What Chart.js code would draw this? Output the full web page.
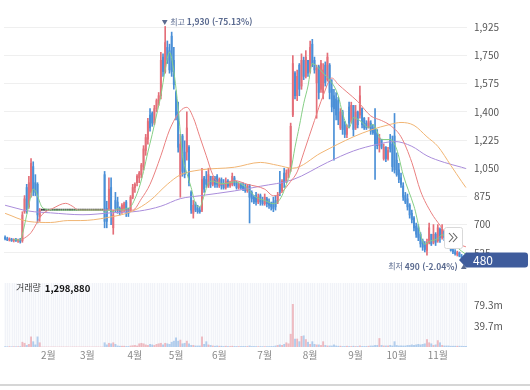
<!DOCTYPE html>
<html lang="ko">
<head>
<meta charset="utf-8">
<script src="https://cdn.jsdelivr.net/npm/chart.js@4.4.1/dist/chart.umd.min.js"></script>
<style>
html,body{margin:0;padding:0;background:#fff;}
#wrap{position:relative;width:530px;height:390px;overflow:hidden;background:#fff;}
#pc{position:absolute;left:0;top:0;}
#vc{position:absolute;left:0;top:270px;}
#foot{position:absolute;left:0;top:384px;width:530px;height:2px;background:#d6d6d6;}
</style>
</head>
<body>
<div id="wrap">
<canvas id="pc" width="530" height="282"></canvas>
<canvas id="vc" width="530" height="120"></canvas>
<div id="foot"></div>
</div>
<script>
// ---------------- DATA ----------------
const open = [620,612,605,610,600,606,598,604,600,780,930,810,900,1060,960,950,750,
790,790,790,790,790,790,790,790,790,790,790,790,790,790,790,790,790,790,790,790,790,790,790,790,790,790,790,790,790,
1010,800,800,930,680,850,840,800,790,800,840,800,790,870,
930,960,990,1010,1060,1160,1230,1380,1390,1330,
1420,1470,1500,1740,1650,1800,1780,1870,1720,1520,
1400,1000,1250,1150,1150,1180,900,770,830,800,
790,790,990,980,940,1000,950,990,1000,940,
980,950,930,970,940,950,990,960,930,950,
940,930,910,940,900,870,880,840,880,850,
830,860,840,830,840,850,840,950,910,1020,
970,1020,1050,1380,1640,1500,1690,1560,1720,1620,
1720,1650,1820,1720,1580,1680,1540,1520,1690,1600,
1690,1540,1500,1480,1470,1300,1400,1320,1260,1430,
1340,1440,1300,1400,1380,1420,1360,1330,1300,1330,
1300,1300,1270,1190,1230,1110,1180,1110,1230,1200,
1250,1100,1040,990,940,880,860,820,770,740,
690,680,640,600,580,540,590,640,590,640,
600,670,620,660,620,590,570,545,530,515,
525,505,500,492];
const high = [630,622,618,615,612,614,610,615,780,880,950,1000,1110,1090,1010,960,800,
790,790,790,790,790,790,790,790,790,790,790,790,790,790,790,790,790,790,790,790,790,790,790,790,790,790,790,790,790,
1030,845,990,990,790,900,870,810,830,840,850,800,880,950,
960,1010,1030,1080,1190,1260,1360,1420,1400,1440,
1480,1520,1770,1760,1930,1840,1820,1895,1800,1530,
1460,1260,1260,1220,1400,1190,910,850,840,820,
810,1050,1000,1030,1050,1000,1000,1000,1010,990,
990,980,990,980,970,1020,1000,970,960,960,
960,950,950,950,910,880,900,890,890,870,
890,870,860,840,870,880,900,1030,980,1050,
1040,1050,1330,1750,1650,1660,1700,1760,1740,1780,
1720,1840,1850,1740,1690,1690,1720,1700,1710,1765,
1700,1600,1540,1520,1490,1420,1410,1340,1320,1460,
1460,1440,1440,1405,1560,1425,1365,1345,1365,1345,
1320,1420,1290,1260,1230,1200,1185,1180,1260,1250,
1390,1145,1080,1020,960,900,890,830,790,750,
710,700,650,610,595,610,710,640,700,650,
700,680,700,660,630,600,575,555,545,535,
530,515,505,495];
const low = [605,600,598,595,592,596,590,585,590,770,770,800,870,880,880,710,720,
790,790,790,790,790,790,790,790,790,790,790,790,790,790,790,790,790,790,790,790,790,790,790,790,790,790,790,790,790,
680,680,790,700,640,780,770,760,770,780,750,750,780,860,
900,940,960,990,1040,1130,1200,1280,1310,1320,
1400,1440,1480,1620,1640,1700,1640,1620,1540,1350,
1150,870,1000,990,1100,940,770,740,780,770,
770,780,900,930,930,930,940,930,930,930,
920,920,920,930,930,940,940,920,920,920,
910,900,900,710,840,830,820,830,820,820,
820,810,800,790,780,790,830,880,900,930,
960,990,1030,1370,1480,1470,1500,1540,1600,1610,
1620,1640,1680,1640,1360,1480,1520,1480,1560,1590,
1480,1400,1100,1350,1320,1290,1260,1240,1240,1300,
1330,1250,1290,1300,1360,1300,1290,1290,1300,1260,
1260,980,1170,1150,1170,1100,1090,1100,1150,1030,
1020,1000,960,930,850,830,790,740,710,660,
620,600,560,540,530,510,580,570,580,570,
590,590,610,600,580,560,535,520,510,505,
500,492,490,480];
const close = [612,605,610,600,606,598,604,595,760,860,800,960,1080,920,900,760,790,
790,790,790,790,790,790,790,790,790,790,790,790,790,790,790,790,790,790,790,790,790,790,790,790,790,790,790,790,790,
720,720,920,780,760,800,790,780,820,830,790,770,870,930,
950,1000,1020,1070,1170,1240,1340,1300,1330,1420,
1470,1500,1720,1650,1830,1720,1660,1650,1570,1380,
1180,1200,1030,1010,1300,960,790,820,790,780,
780,980,920,950,1010,950,990,950,950,980,
940,930,970,940,960,1000,950,930,950,930,
920,910,940,870,860,840,840,870,840,830,
870,830,820,810,800,810,880,900,970,960,
1020,1040,1310,1700,1500,1620,1540,1720,1620,1740,
1640,1800,1700,1660,1670,1520,1700,1660,1580,1740,
1520,1430,1420,1380,1350,1400,1290,1260,1300,1330,
1440,1290,1400,1320,1500,1320,1300,1300,1340,1280,
1270,1200,1190,1240,1180,1180,1110,1160,1170,1060,
1040,1010,980,950,870,840,810,760,730,680,
640,620,580,560,545,590,680,580,640,590,
680,620,670,620,590,570,540,530,520,525,
505,498,492,480];
// volume in millions
const volume = [0.6,0.5,0.7,0.5,0.6,0.5,0.6,0.8,
9,7,3,5,19,10,4,19,8,0,
0,0,0,0,0,0,0,0,0,0,0,0,0,0,0,0,0,0,0,0,0,0,0,0,0,0,0,0,
8,4,7,6,8,5,2,1.5,1.5,1.5,1,1,2,2.5,
3,2,6,7,6,4,3,5,4,3,
5,6,7,4,7,6,5,9,11,17,
11,13,6,7,11,6,3,3,2,2,
2,19,5,10,4,3,2,1.5,2,1.5,
1.5,1,1.5,1,1,1.5,1,1,1,1,
1,1,1,2,1,1,0.8,0.8,0.8,0.8,
0.8,0.8,0.8,1,1,2,3,4,3,5,
8,6,24,80,15,15,10,20,21,14,
9,5,10,5,4,4,3,10,3,2,
2,2,4,2,1.5,1.5,1,1,1.5,1,
1,1.5,1,1,2,1,1,1,1.5,2,
2,3,3,16,3,2,2,2,3,2,
10,3,2,2,2,2,3,3,4,3,
4,5,4,5,6,14,8,6,3,4,
12,8,3,2,2,2,1.5,1.5,1.5,1.5,
1.5,1.5,1.3,1.3];
// moving averages: [day index, value]
const ma5 = [[4,608],[7,603],[8,640],[10,760],[12,880],[13,920],[14,910],[15,880],[16,840],[17,810],[19,795],[21,790],[45,790],[46,776],[48,790],[50,780],[52,800],[54,790],[56,800],[58,810],[60,860],[62,930],[64,1030],[66,1150],[68,1260],[70,1380],[72,1500],[74,1660],[76,1770],[78,1650],[80,1420],[82,1130],[84,1020],[86,930],[88,830],[90,810],[92,880],[94,960],[96,970],[98,960],[102,955],[106,965],[110,945],[113,910],[116,870],[120,850],[124,830],[126,840],[128,880],[130,950],[132,1030],[134,1180],[136,1310],[138,1450],[140,1560],[142,1700],[145,1670],[147,1640],[150,1600],[154,1500],[156,1390],[159,1300],[161,1364],[164,1346],[168,1304],[170,1322],[174,1228],[178,1228],[181,1168],[184,1009],[189,814],[194,578],[196,595],[200,613],[202,637],[205,610],[208,570],[211,535],[213,515]];
const ma20 = [[8,607],[12,650],[17,761],[22,800],[28,832],[31,815],[34,790],[46,790],[59,790],[63,860],[67,950],[72,1127],[76,1287],[81,1405],[84,1428],[87,1364],[90,1245],[93,1127],[96,1009],[100,950],[106,973],[112,950],[120,920],[124,879],[127,891],[132,968],[135,1027],[138,1145],[143,1346],[147,1500],[151,1610],[154,1570],[158,1523],[163,1464],[169,1375],[174,1346],[178,1316],[183,1245],[188,1086],[192,909],[197,773],[201,696],[207,595],[213,562]];
const ma60 = [[0,770],[11,719],[21,713],[29,725],[35,725],[47,743],[59,784],[67,849],[75,950],[81,1009],[90,1039],[106,1056],[118,1086],[126,1068],[133,1050],[146,1145],[161,1245],[169,1287],[178,1322],[183,1334],[189,1316],[195,1245],[200,1186],[206,1068],[211,968],[213,930]];
const ma120 = [[0,820],[11,784],[21,773],[36,761],[49,773],[62,784],[72,814],[81,861],[90,879],[106,909],[118,938],[133,979],[149,1086],[161,1157],[172,1198],[180,1216],[188,1186],[195,1127],[203,1086],[211,1056],[213,1048]];

const priceTicks = [525,700,875,1050,1225,1400,1575,1750,1925];
const volTicks = [39.7,79.3];
const monthIdx = [20,38,60,79,99,120,141,162,181,200];
const monthLabels = ['2월','3월','4월','5월','6월','7월','8월','9월','10월','11월'];
const highMark = 1930, lowMark = 490, lastVolume = 1298880;

// ---------------- STYLE ----------------
const FONT = '"Noto Sans CJK KR", "Noto Sans", sans-serif';
Chart.defaults.font.family = FONT;
Chart.defaults.font.size = 10;
Chart.defaults.color = '#555';
const UP = '#e46f79', DOWN = '#4a8fd7', FLAT = '#3a3a3a';
const VUP = 'rgba(228,111,121,0.45)', VDOWN = 'rgba(74,143,215,0.40)';
const MARK = '#5b6b90';
const PMIN = 430.5, PMAX = 2013.6, VMAX = 120;

const N = close.length;
const days = close.map((_, i) => i);
const dirColor = i => close[i] > open[i] ? UP : (close[i] < open[i] ? DOWN : FLAT);
const lastPrice = close[N - 1];
const fmt = v => v.toLocaleString('en-US');
const pct = v => ((lastPrice - v) / v * 100).toFixed(2);

function maSet(pts, color) {
  return { type: 'line', data: pts.map(([x, y]) => ({ x, y })), borderColor: color, borderWidth: 1,
    pointRadius: 0, cubicInterpolationMode: 'monotone', order: 0 };
}

const priceMarks = {
  id: 'priceMarks',
  afterDraw(chart) {
    const { ctx, scales: { x, y } } = chart;
    ctx.save();
    // high marker
    const hiIdx = high.indexOf(highMark);
    const hx = x.getPixelForValue(hiIdx), hy = y.getPixelForValue(highMark);
    const ty = hy - 5;
    ctx.fillStyle = MARK; ctx.textBaseline = 'middle';
    ctx.textAlign = 'center'; ctx.font = '6px ' + FONT;
    ctx.fillText('▼', hx - 0.5, ty);
    ctx.textAlign = 'left'; ctx.font = '8px ' + FONT;
    let cx = hx + 5;
    ctx.fillText('최고', cx, ty);
    cx += ctx.measureText('최고 ').width;
    ctx.font = 'bold 8.5px ' + FONT;
    ctx.fillText(fmt(highMark) + ' (' + pct(highMark) + '%)', cx, ty);
    // low marker
    const loIdx = low.lastIndexOf(lowMark);
    const lx = x.getPixelForValue(loIdx), ly = y.getPixelForValue(lowMark) + 8;
    ctx.textAlign = 'center'; ctx.font = '6px ' + FONT;
    ctx.fillText('▲', lx, ly);
    ctx.textAlign = 'right'; ctx.font = 'bold 8.5px ' + FONT;
    const lt = fmt(lowMark) + ' (' + pct(lowMark) + '%)';
    ctx.fillText(lt, lx - 6, ly);
    const lw = ctx.measureText(lt).width;
    ctx.font = '8px ' + FONT;
    ctx.fillText('최저 ', lx - 6 - lw, ly);
    // scroll button
    const bx = 444, by = 227, bw = 18, bh = 21;
    ctx.fillStyle = '#fff'; ctx.strokeStyle = '#d9d9d9'; ctx.lineWidth = 1;
    ctx.beginPath(); ctx.roundRect(bx + 0.5, by + 0.5, bw, bh, 2); ctx.fill(); ctx.stroke();
    ctx.strokeStyle = '#666'; ctx.lineWidth = 1.1;
    [0, 4].forEach(d => {
      ctx.beginPath();
      ctx.moveTo(bx + 5 + d, by + 6); ctx.lineTo(bx + 9 + d, by + 10.5); ctx.lineTo(bx + 5 + d, by + 15);
      ctx.stroke();
    });
    // last price tag
    const py = y.getPixelForValue(lastPrice);
    ctx.fillStyle = '#3f5c9c';
    ctx.beginPath();
    ctx.moveTo(459, py); ctx.lineTo(466, py - 7.5); ctx.lineTo(525, py - 7.5);
    ctx.quadraticCurveTo(528, py - 7.5, 528, py - 4.5); ctx.lineTo(528, py + 4.5);
    ctx.quadraticCurveTo(528, py + 7.5, 525, py + 7.5); ctx.lineTo(466, py + 7.5); ctx.closePath();
    ctx.fill();
    ctx.fillStyle = '#fff'; ctx.textAlign = 'left'; ctx.font = '12px ' + FONT;
    ctx.fillText(fmt(lastPrice), 473, py + 0.5);
    ctx.restore();
  }
};

new Chart(document.getElementById('pc'), {
  type: 'bar',
  data: { datasets: [
    maSet(ma5, '#86cf86'), maSet(ma20, '#ea8080'), maSet(ma60, '#f1b573'), maSet(ma120, '#aa8ddb'),
    { data: days.map(i => ({ x: i, y: [low[i], high[i]] })), backgroundColor: days.map(dirColor),
      barThickness: 1, grouped: false, order: 2 },
    { data: days.map(i => ({ x: i, y: [Math.min(open[i], close[i]), Math.max(open[i], close[i])] })),
      backgroundColor: days.map(dirColor), barThickness: 1.3, minBarLength: 1, grouped: false, order: 1 }
  ] },
  options: {
    responsive: false, animation: false, events: [],
    layout: { padding: { left: 4, right: 0, top: 0, bottom: 14 } },
    plugins: { legend: { display: false }, tooltip: { enabled: false } },
    scales: {
      x: { type: 'linear', min: -0.5, max: N - 0.5, offset: false, display: false },
      y: { position: 'right', min: PMIN, max: PMAX,
        grid: { color: '#efefef', drawTicks: false }, border: { display: false },
        afterBuildTicks: s => { s.ticks = priceTicks.map(v => ({ value: v })); },
        afterFit: s => { s.width = 63; },
        ticks: { padding: 7, color: '#555', font: { size: 10 }, callback: v => fmt(v) } }
    }
  },
  plugins: [priceMarks]
});

const volDeco = {
  id: 'volDeco',
  beforeDatasetsDraw(chart) {
    const { ctx, chartArea: a, scales: { x } } = chart;
    ctx.save();
    ctx.fillStyle = '#fafbfd';
    ctx.fillRect(a.left, a.top, a.right - a.left, a.bottom - a.top);
    ctx.strokeStyle = '#f1f3f8'; ctx.lineWidth = 1;
    days.forEach(i => {
      const px = Math.round(x.getPixelForValue(i)) + 0.5;
      ctx.beginPath(); ctx.moveTo(px, a.top); ctx.lineTo(px, a.bottom); ctx.stroke();
    });
    ctx.restore();
  },
  afterDraw(chart) {
    const { ctx } = chart;
    ctx.save();
    ctx.textBaseline = 'middle'; ctx.textAlign = 'left';
    ctx.fillStyle = '#444'; ctx.font = '9px ' + FONT;
    ctx.fillText('거래량', 16, 18);
    const w = ctx.measureText('거래량 ').width;
    ctx.fillStyle = '#111'; ctx.font = 'bold 9.5px ' + FONT;
    ctx.fillText(fmt(lastVolume), 16 + w + 2, 18);
    ctx.restore();
  }
};

new Chart(document.getElementById('vc'), {
  type: 'bar',
  data: { datasets: [
    { data: days.map(i => ({ x: i, y: volume[i] })),
      backgroundColor: days.map(i => close[i] >= open[i] ? VUP : VDOWN),
      barThickness: 1.3, grouped: false }
  ] },
  options: {
    responsive: false, animation: false, events: [],
    layout: { padding: { left: 4, right: 0, top: 8, bottom: 0 } },
    plugins: { legend: { display: false }, tooltip: { enabled: false } },
    scales: {
      x: { type: 'linear', min: -0.5, max: N - 0.5, offset: false,
        grid: { display: false, drawTicks: false }, border: { display: false },
        afterBuildTicks: s => { s.ticks = monthIdx.map(v => ({ value: v })); },
        afterFit: s => { s.height = 43; },
        ticks: { autoSkip: false, maxRotation: 0, padding: 2, color: '#888', font: { size: 10 },
          callback: v => monthLabels[monthIdx.indexOf(v)] } },
      y: { position: 'right', min: 0, max: VMAX,
        grid: { display: false, drawTicks: false }, border: { display: false },
        afterBuildTicks: s => { s.ticks = volTicks.map(v => ({ value: v })); },
        afterFit: s => { s.width = 63; },
        ticks: { padding: 7, color: '#555', font: { size: 10 }, callback: v => v + 'm' } }
    }
  },
  plugins: [volDeco]
});
</script>
</body>
</html>
